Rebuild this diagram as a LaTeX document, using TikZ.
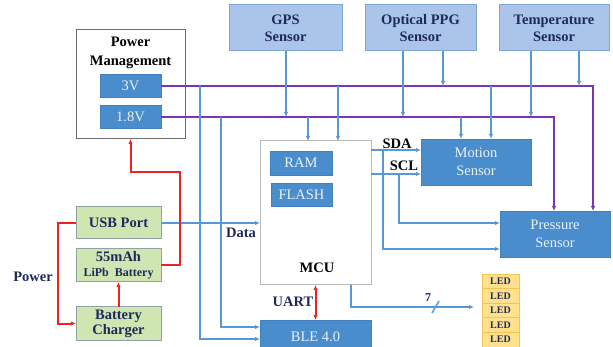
\documentclass[tikz,border=0pt]{standalone}
\usepackage{fontspec}
\setmainfont{Liberation Serif}
\usetikzlibrary{arrows.meta,calc}

\definecolor{navy}{HTML}{1F2A5A}
\definecolor{sensfill}{HTML}{AAC5E9}
\definecolor{sensdraw}{HTML}{7FA6D6}
\definecolor{midblue}{HTML}{4A8DCC}
\definecolor{midblueb}{HTML}{4280C0}
\definecolor{lighttxt}{HTML}{E8F0FA}
\definecolor{greenfill}{HTML}{CFE5B2}
\definecolor{greendraw}{HTML}{8FA3A3}
\definecolor{sigblue}{HTML}{5698D8}
\definecolor{buspurple}{HTML}{7B34B2}
\definecolor{pwrred}{HTML}{EE2222}
\definecolor{ledfill}{HTML}{FFE08C}
\definecolor{leddraw}{HTML}{F2C45A}

\tikzset{
  every node/.style={inner sep=0pt, outer sep=0pt},
  txt/.style={font=\fontsize{14.5}{17}\selectfont\bfseries, text=navy, align=center},
  sensbox/.style={draw=sensdraw, line width=1pt, fill=sensfill, txt},
  bluebox/.style={draw=midblueb, line width=0.6pt, fill=midblue, text=lighttxt,
    font=\fontsize{14.5}{18}\selectfont, align=center},
  greenbox/.style={draw=greendraw, line width=1pt, fill=greenfill, txt,
    minimum width=85pt},
  ledbox/.style={draw=leddraw, line width=0.8pt, fill=ledfill, text=navy,
    font=\fontsize{10}{11}\selectfont\bfseries, minimum width=37pt, minimum height=14.6pt},
  sig/.style={draw=sigblue, line width=1.8pt, -{Latex[length=5pt,width=4.5pt]}},
  sigline/.style={draw=sigblue, line width=1.8pt},
  bus/.style={draw=buspurple, line width=2.4pt},
  pwr/.style={draw=pwrred, line width=2pt, -{Latex[length=5pt,width=4.5pt]}},
}

\begin{document}
\begin{tikzpicture}[x=1pt, y=-1pt]
\useasboundingbox (0,0) rectangle (613,347);

% ---------- blocks ----------
\node[draw=gray!85!black, line width=1pt, fill=white, minimum width=109pt, minimum height=109pt] (pm) at (130.5,84.5) {};
\node[txt, text=black, font=\fontsize{14.5}{19}\selectfont\bfseries] (pmtitle) at (130.5,52.5) {Power\\Management};
\node[bluebox, minimum width=61pt, minimum height=23pt] (v3) at (130.5,86) {3V};
\node[bluebox, minimum width=61pt, minimum height=23pt] (v18) at (130.5,117) {1.8V};

\node[sensbox, minimum width=113pt, minimum height=46pt] (gps) at (285.5,28) {GPS\\Sensor};
\node[sensbox, minimum width=111pt, minimum height=46pt] (ppg) at (420.5,28) {Optical PPG\\Sensor};
\node[sensbox, minimum width=110pt, minimum height=46pt] (tmp) at (554,28) {Temperature\\Sensor};

\node[draw=gray!55, line width=1pt, fill=white, minimum width=111pt, minimum height=144pt] (mcu) at (315.5,213) {};
\node[bluebox, minimum width=62pt, minimum height=24pt] (ram) at (301,163) {RAM};
\node[bluebox, minimum width=61pt, minimum height=23pt] (flash) at (301.5,194.5) {FLASH};
\node[txt, text=black] (mculbl) at (317,268) {MCU};

\node[bluebox, minimum width=110pt, minimum height=46pt] (mot) at (476,162) {Motion\\Sensor};
\node[bluebox, minimum width=110pt, minimum height=46pt] (prs) at (555,234) {Pressure\\Sensor};
\node[bluebox, minimum width=111pt, minimum height=34pt] (ble) at (315.5,337) {BLE 4.0};

\node[greenbox, minimum height=32pt] (usb) at (118.5,223) {USB Port};
\node[greenbox, minimum height=33pt] (bat) at (118.5,265.5) {55mAh\\[-2pt]{\fontsize{12}{13}\selectfont LiPb\ \ Battery}};
\node[greenbox, minimum height=33pt] (chg) at (118.5,323.5) {Battery\\[-2pt]Charger};

\node[ledbox] (led1) at (500.5,281.3) {LED};
\node[ledbox] (led2) at (500.5,295.9) {LED};
\node[ledbox] (led3) at (500.5,310.5) {LED};
\node[ledbox] (led4) at (500.5,325.1) {LED};
\node[ledbox] (led5) at (500.5,339.7) {LED};

% ---------- supply rails ----------
\coordinate (r3) at (593,86);
\coordinate (r18) at (554,117);
\draw[bus, -{Latex[length=5pt,width=4.5pt]}] (v3.east) -| (prs.north -| r3);
\draw[bus, -{Latex[length=5pt,width=4.5pt]}] (v18.east) -| (prs.north -| r18);

% sensors onto the rails
\coordinate (g1) at (286,117);
\coordinate (o1) at (403,117);
\coordinate (o2) at (443,86);
\coordinate (t1) at (531,117);
\coordinate (t2) at (579,86);
\draw[sig] (gps.south -| g1) -- (g1);
\draw[sig] (ppg.south -| o1) -- (o1);
\draw[sig] (ppg.south -| o2) -- (o2);
\draw[sig] (tmp.south -| t1) -- (t1);
\draw[sig] (tmp.south -| t2) -- (t2);

% rails down to the MCU, motion sensor and BLE
\coordinate (m1) at (308,117);
\coordinate (m2) at (338,86);
\coordinate (s1) at (461,117);
\coordinate (s2) at (491,86);
\coordinate (k1) at (200,86);
\coordinate (k2) at (221,117);
\draw[sig] (m1) -- (mcu.north -| m1);
\draw[sig] (m2) -- (mcu.north -| m2);
\draw[sig] (s1) -- (mot.north -| s1);
\draw[sig] (s2) -- (mot.north -| s2);
\coordinate (b1) at (260,339);
\coordinate (b2) at (260,327);
\draw[sig] (k1) |- (ble.west |- b1);
\draw[sig] (k2) |- (ble.west |- b2);

% ---------- data buses ----------
\draw[sig] (usb.east) -- (mcu.west |- usb.east);
\node[txt] (datalbl) at (241,233) {Data};

\coordinate (sda) at (421,150);
\coordinate (scl) at (421,174);
\draw[sig] (mcu.east |- sda) -- (sda);
\draw[sig] (mcu.east |- scl) -- (scl);
\node[txt, text=black!85!navy] (sdalbl) at (397,144) {SDA};
\node[txt, text=black!85!navy] (scllbl) at (404,166) {SCL};

\coordinate (pa) at (383,249);
\coordinate (pb) at (399,223);
\draw[sig] (pa |- sda) -- (pa) -- (prs.west |- pa);
\draw[sig] (pb |- scl) -- (pb) -- (prs.west |- pb);

% LED outputs
\coordinate (lc) at (351,307);
\coordinate (le) at (474,307);
\draw[sig] (mcu.south -| lc) |- (le);
\coordinate (sl1) at (432,313);
\coordinate (sl2) at (439,301);
\draw[sigline, line width=1.5pt] (sl1) -- (sl2);
\node[txt, font=\fontsize{12}{13}\selectfont\bfseries] (seven) at (428,298) {7};

% UART
\draw[pwr, {Latex[length=5pt,width=4.5pt]}-{Latex[length=5pt,width=4.5pt]}] (mcu.south) -- (ble.north);
\node[txt] (uartlbl) at (293,302) {UART};

% ---------- power path ----------
\coordinate (ul) at (58,223);
\draw[pwr] (usb.west) -- (ul) |- (chg.west);
\node[txt] (pwrlbl) at (33,277) {Power};
\draw[pwr] (chg.north) -- (bat.south);
\coordinate (rb) at (180,172);
\draw[pwr] (bat.east) -| (rb) -| (pm.south);
\end{tikzpicture}
\end{document}
